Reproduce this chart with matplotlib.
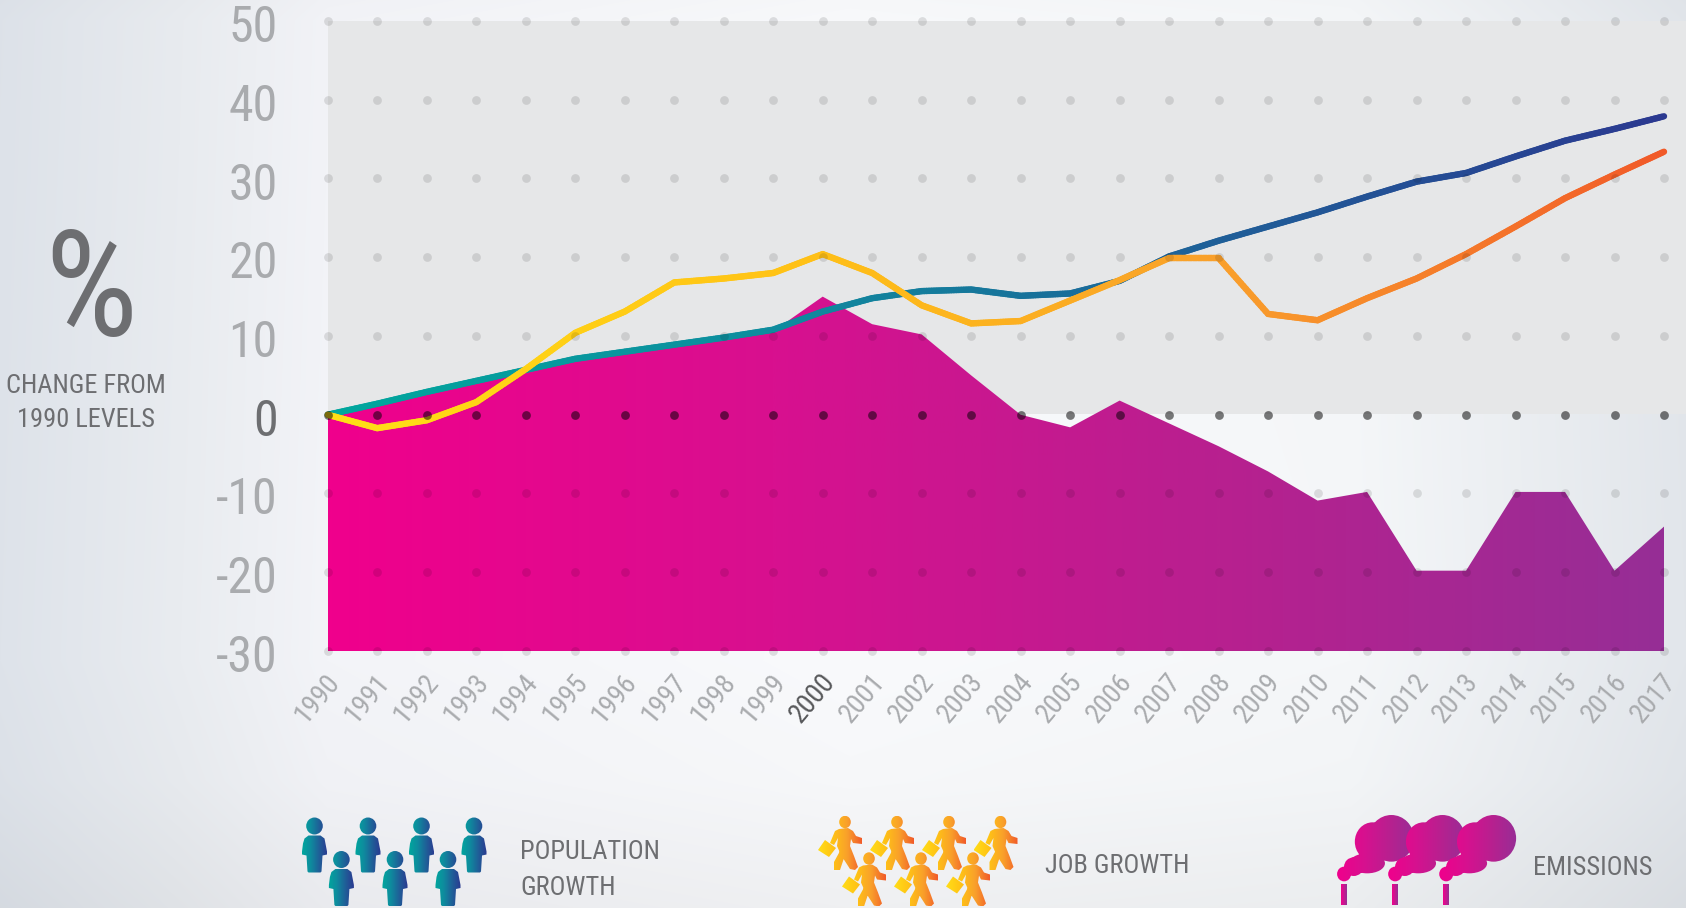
import numpy as np
import matplotlib
matplotlib.use("Agg")
import matplotlib.pyplot as plt
from matplotlib.collections import LineCollection
from matplotlib.colors import LinearSegmentedColormap
from matplotlib.patches import Rectangle
from matplotlib.path import Path
from matplotlib.transforms import ScaledTranslation, Affine2D

years = list(range(1990, 2018))
population = [0, 1.4, 2.9, 4.3, 5.7, 7.1, 8.0, 8.9, 9.8, 10.8, 13.1, 14.8, 15.7, 15.9,
              15.1, 15.4, 17.0, 20.1, 22.1, 23.9, 25.7, 27.7, 29.6, 30.7, 32.8, 34.8, 36.3, 37.9]
jobs = [0, -1.7, -0.7, 1.6, 5.8, 10.4, 13.1, 16.8, 17.3, 18.0, 20.4, 18.0, 13.9, 11.6,
        11.9, 14.5, 17.1, 19.9, 19.9, 12.8, 12.0, 14.8, 17.3, 20.4, 23.9, 27.5, 30.5, 33.4]
emissions = [0, 1.3, 2.7, 4.1, 5.5, 7.0, 8.0, 8.9, 9.8, 10.6, 15.0, 11.5, 10.2, 5.0,
             0.0, -1.6, 1.8, -1.1, -4.0, -7.2, -10.9, -9.8, -19.8, -19.8, -9.8, -9.8, -19.8, -14.2]
y_ticks = [-30, -20, -10, 0, 10, 20, 30, 40, 50]
legend_labels = ["POPULATION\nGROWTH", "JOB GROWTH", "EMISSIONS"]
side_labels = ["%", "CHANGE FROM\n1990 LEVELS"]

W, H = 1686, 908
GREY = "#6D6E71"
LIGHT = "#A9ABAE"
plt.rcParams["font.family"] = ["Roboto Condensed", "DejaVu Sans"]

fig = plt.figure(figsize=(W / 100, H / 100), dpi=100)

# background layer in pixel coordinates
bg = fig.add_axes([0, 0, 1, 1], zorder=0)
bg.axis("off")
xs = np.arange(W); ys = np.arange(H)
prof_x = np.array([[0xDE, 0xE3, 0xEA], [0xE9, 0xEC, 0xF0], [0xF3, 0xF4, 0xF8],
                   [0xF9, 0xFA, 0xFC], [0xF5, 0xF7, 0xF9], [0xE2, 0xE6, 0xEB]], float)
px = [0, 180, 327, 850, 1350, 1686]
base = np.stack([np.interp(xs, px, prof_x[:, i]) for i in range(3)], axis=1)
shade = np.interp(ys, [0, 20, 660, 780, 908], [0.99, 0.995, 1.0, 0.99, 0.96])
img = np.clip(shade[:, None, None] * base[None, :, :] / 255, 0, 1)
bg.imshow(img, extent=(0, W, H, 0), aspect="auto", interpolation="bilinear")
bg.add_patch(Rectangle((327.8, 21), W - 327.8, 393, fc="#E6E7E8", ec="none"))
bg.set_xlim(0, W); bg.set_ylim(H, 0)

# main chart
ax = fig.add_axes([327.8 / W, 1 - 651 / H, (1664 - 327.8) / W, (651 - 21) / H], zorder=2)
ax.patch.set_alpha(0)
for s in ax.spines.values():
    s.set_visible(False)

pink_cm = LinearSegmentedColormap.from_list("e", ["#F0008C", "#D8108F", "#B8208F", "#962E96"])
teal_cm = LinearSegmentedColormap.from_list("p", ["#00A79D", "#0E8C9E", "#1F5F98", "#2B3990"])
gold_cm = LinearSegmentedColormap.from_list("j", ["#FFDE17", "#FFC315", "#F9A02B", "#F15A29"])
grad = np.linspace(0, 1, 512)[None, :]

area = ax.fill_between(years, emissions, -30, facecolor="none", edgecolor="none")
im = ax.imshow(grad, extent=(1990, 2017, -30, 50), aspect="auto", cmap=pink_cm, zorder=1)
im.set_clip_path(area.get_paths()[0], ax.transData)
ax.set_xlim(1990, 2017); ax.set_ylim(-30, 50)


def gradient_line(y, cmap, z):
    fine = np.linspace(years[0], years[-1], 541)
    fy = np.interp(fine, years, y)
    pts = np.column_stack([fine, fy])
    segs = np.stack([pts[:-1], pts[1:]], axis=1)
    lc = LineCollection(segs, cmap=cmap, linewidths=4.6, capstyle="round", zorder=z, clip_on=False)
    lc.set_array((fine[:-1] - 1990) / 27)
    lc.set_clim(0, 1)
    ax.add_collection(lc)


gradient_line(population, teal_cm, 3)
gradient_line(jobs, gold_cm, 4)

gx, gy = np.meshgrid(years, [v for v in y_ticks if v != 0])
ax.scatter(gx.ravel(), gy.ravel(), s=40, color="black", alpha=0.11, linewidths=0, zorder=5, clip_on=False)
ax.scatter(years, [0] * len(years), s=40, color="black", alpha=0.52, linewidths=0, zorder=5, clip_on=False)

ax.set_xticks(years)
ax.set_xticklabels([str(y) for y in years], rotation=50, ha="center", va="center",
                   rotation_mode="anchor", fontsize=20, color=LIGHT)
ax.tick_params(axis="x", length=0, pad=0)
off = ScaledTranslation(-10 / 100, -47 / 100, fig.dpi_scale_trans)
for lab, y in zip(ax.get_xticklabels(), years):
    lab.set_transform(ax.get_xaxis_transform() + off)
    lab.set_y(0)
    if y == 2000:
        lab.set_color("#58595B")

ax.set_yticks(y_ticks)
ax.set_yticklabels([str(v) for v in y_ticks], fontsize=36, color=LIGHT, va="center", ha="right")
ax.tick_params(axis="y", length=0, pad=36)
off_y = ScaledTranslation(0, -7 / 100, fig.dpi_scale_trans)
for lab, v in zip(ax.get_yticklabels(), y_ticks):
    lab.set_transform(lab.get_transform() + off_y)
    if v == 0:
        lab.set_color(GREY)

# overlay layer in pixel coordinates
ov = fig.add_axes([0, 0, 1, 1], zorder=3)
ov.patch.set_alpha(0)
ov.axis("off")

ov.text(91, 296, side_labels[0], fontsize=106, color=GREY, ha="center", va="center")
ov.text(86, 403, side_labels[1], fontsize=19, color=GREY, ha="center", va="center", linespacing=1.55)


def gradient_shape(paths, x0, x1, y0, y1, cmap):
    path = Path.make_compound_path(*paths)
    i = ov.imshow(grad, extent=(x0, x1, y1, y0), aspect="auto", cmap=cmap, zorder=3)
    i.set_clip_path(path, ov.transData)


def ell(cx, cy, rx, ry):
    return Path.unit_circle().transformed(Affine2D().scale(rx, ry).translate(cx, cy))


def person(cx, top):
    head = ell(cx, top + 8.5, 8.3, 8.5)
    pts = [(-11.5, 26), (-10, 21), (-6, 18), (6, 18), (10, 21), (12.5, 34), (12.5, 37), (8, 38),
           (7, 54), (6, 55), (-6, 55), (-7, 54), (-8, 38), (-12.5, 37), (-12.5, 34), (-11.5, 26)]
    body = Path([(cx + a, top + b) for a, b in pts])
    gradient_shape([head, body], cx - 13, cx + 13, top, top + 56, teal_cm)


for cx in (314.5, 368, 421.5, 474):
    person(cx, 817.5)
for cx in (341.4, 395, 448):
    person(cx, 851)


def walker(cx, cy):
    head = ell(cx, cy, 5.8, 6.2)
    torso = [(-6, 7), (3, 6), (8, 9), (11, 14), (17, 16), (17, 22), (8, 21), (6, 17), (5, 24),
             (9, 34), (13, 45), (10, 48), (5, 47), (-4, 33), (-8, 24), (-7, 16), (-11, 23),
             (-15, 21), (-10, 9)]
    leg = [(-5, 29), (-1, 36), (-5, 48), (-11, 48), (-11, 40)]
    case = [(-27, 28), (-20, 18), (-9, 26), (-16, 35)]
    paths = [head] + [Path([(cx + a, cy + b) for a, b in p] + [(cx + p[0][0], cy + p[0][1])])
                      for p in (torso, leg, case)]
    gradient_shape(paths, cx - 27, cx + 17, cy - 6, cy + 48, gold_cm)


for cx in (845, 897, 949, 1000.5):
    walker(cx, 822)
for cx in (869, 921, 973):
    walker(cx, 858.5)

cloud = [(1020, 175, 42, 70), (985, 185, 33, 58), (975, 250, 33, 30), (950, 260, 18, 28), (932, 282, 13, 22)]
for k in range(3):
    dx = k * 95 / 1.86
    paths = [ell(843 + a / 1.86 + dx, 780 + b / 3, c / 1.86, d / 3) for a, b, c, d in cloud]
    x0 = 843 + 918 / 1.86 + dx
    x1 = 843 + 1064 / 1.86 + dx
    stack = Path([(x0 + 4, 883.5), (x0 + 10, 883.5), (x0 + 10, 905), (x0 + 4, 905), (x0 + 4, 883.5)])
    gradient_shape(paths, x0, x1, 810, 885, pink_cm)
    gradient_shape([stack], x0 + 4, x0 + 10, 883, 905, pink_cm)

ov.set_xlim(0, W); ov.set_ylim(H, 0)

ov.text(520, 870, legend_labels[0], fontsize=19, color=GREY, ha="left", va="center", linespacing=1.6)
ov.text(1045, 866, legend_labels[1], fontsize=19, color=GREY, ha="left", va="center")
ov.text(1533, 868, legend_labels[2], fontsize=19, color=GREY, ha="left", va="center")

fig.savefig("out.png", dpi=100)
